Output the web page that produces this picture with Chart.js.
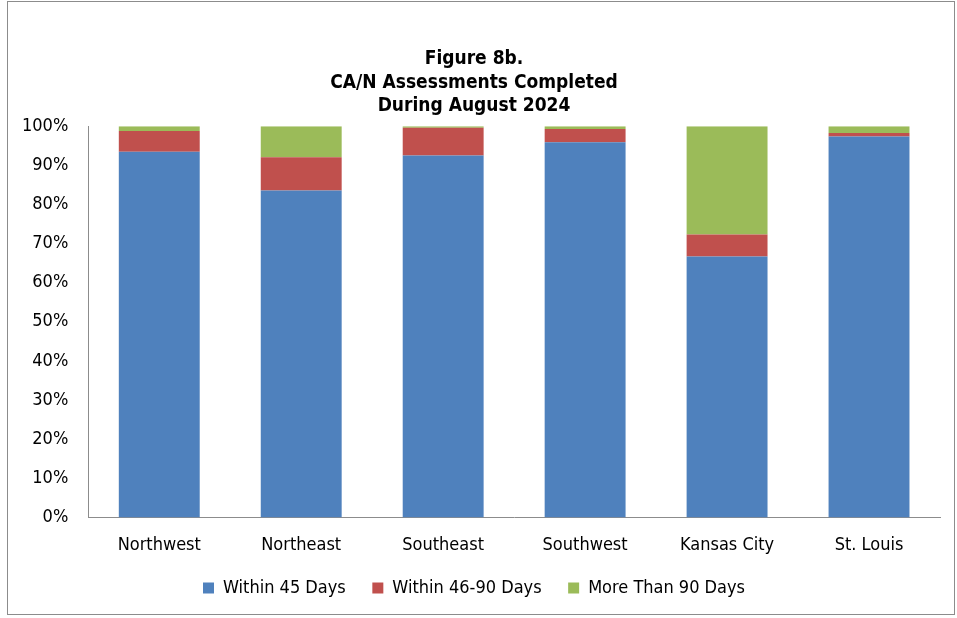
<!DOCTYPE html>
<html>
<head>
<meta charset="utf-8">
<script src="https://cdn.jsdelivr.net/npm/chart.js@4"></script>
<style>
  body { margin: 0; background: #fff; }
  #wrap { position: absolute; left: 7px; top: 1px; width: 948px; height: 614px; border: 1px solid #8c8c8c; box-sizing: border-box; }
</style>
</head>
<body>
<div id="wrap"><canvas id="chart"></canvas></div>
<script>
const regions = ['Northwest', 'Northeast', 'Southeast', 'Southwest', 'Kansas City', 'St. Louis'];
const within45 = [93.5, 83.6, 92.5, 95.9, 66.7, 97.4];
const within46to90 = [5.3, 8.5, 7.1, 3.4, 5.6, 0.9];
const over90 = [1.2, 7.9, 0.4, 0.7, 27.7, 1.7];

const font = 'DejaVu Sans Condensed';
const ctx = document.getElementById('chart').getContext('2d');
new Chart(ctx, {
    type: 'bar',
    data: {
        labels: regions,
        datasets: [
            { label: 'Within 45 Days', data: within45, backgroundColor: '#4F81BD' },
            { label: 'Within 46-90 Days', data: within46to90, backgroundColor: '#C0504D' },
            { label: 'More Than 90 Days', data: over90, backgroundColor: '#9BBB59' }
        ]
    },
    options: {
        responsive: true,
        maintainAspectRatio: false,
        animation: false,
        layout: { padding: { left: 0, right: 14, top: 45, bottom: 7 } },
        datasets: { bar: { barPercentage: 0.57, categoryPercentage: 1 } },
        scales: {
            x: {
                stacked: true,
                grid: { display: false, drawTicks: false },
                border: { color: '#8c8c8c' },
                ticks: { color: '#000', font: { family: font, size: 18 }, padding: 17 }
            },
            y: {
                stacked: true,
                min: 0, max: 100,
                grid: { display: false, drawTicks: false },
                border: { color: '#8c8c8c' },
                ticks: { stepSize: 10, color: '#000', padding: 20, font: { family: font, size: 18 },
                    callback: v => v + '%' },
                afterFit: scale => { scale.width -= 6; }
            }
        },
        plugins: {
            title: {
                display: true,
                text: ['Figure 8b.', 'CA/N Assessments Completed', 'During August 2024'],
                color: '#000',
                font: { family: font, size: 19, weight: 'bold', lineHeight: 1.25 },
                padding: { top: 0, bottom: 8 }
            },
            legend: {
                position: 'bottom',
                labels: {
                    color: '#000', font: { family: font, size: 18 }, boxWidth: 11, boxHeight: 11, padding: 6,
                    generateLabels: chart => {
                        const items = Chart.defaults.plugins.legend.labels.generateLabels(chart);
                        // widen the gaps between legend entries
                        items.forEach((it, i) => { if (i < items.length - 1) it.text += '    '; });
                        return items;
                    }
                }
            },
            tooltip: { enabled: false }
        }
    }
});
</script>
</body>
</html>
